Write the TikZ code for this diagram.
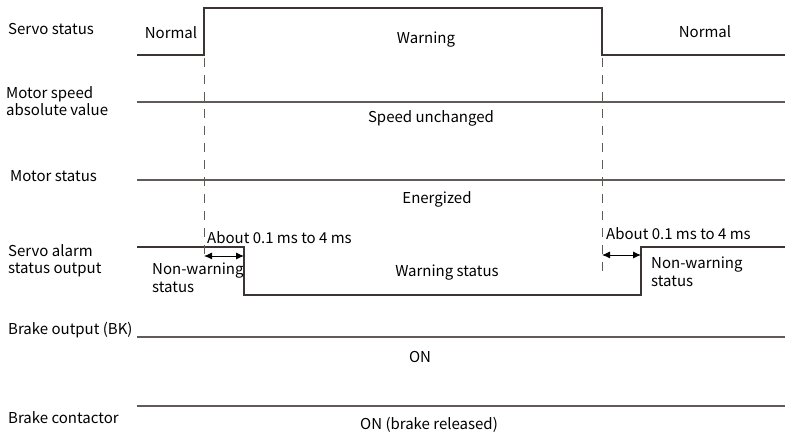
\documentclass[tikz,border=0pt]{standalone}
\usepackage{fontspec}
\setmainfont{Noto Sans CJK SC}
\usetikzlibrary{arrows.meta}
\definecolor{wavecol}{HTML}{3A3432}
\definecolor{linecol}{HTML}{605A58}
\begin{document}
\begin{tikzpicture}[x=1pt,y=-1pt,
  wave/.style={line width=1.3pt,draw=wavecol},
  hline/.style={line width=1.2pt,draw=linecol},
  guide/.style={line width=1pt,draw=linecol,dash pattern=on 9pt off 8pt},
  dim/.style={line width=0.9pt,draw=black,{Latex[length=8pt,width=7pt]}-{Latex[length=8pt,width=7pt]}},
  lbl/.style={font=\fontsize{15}{17.5}\selectfont,inner sep=0pt,anchor=west,align=left},
  txt/.style={font=\fontsize{15}{17.5}\selectfont,inner sep=0pt,align=left}]
\useasboundingbox (0,0) rectangle (788,435);
% left labels
\node[lbl] (l1) at (8,29) {Servo status};
\node[lbl] (l2) at (6,101) {Motor speed\\absolute value};
\node[lbl] (l3) at (10,176) {Motor status};
\node[lbl] (l4) at (8,261) {Servo alarm\\status output};
\node[lbl] (l5) at (8,330) {Brake output (BK)};
\node[lbl] (l6) at (8,418) {Brake contactor};
% servo status waveform
\draw[wave] (137,55) -- (204,55) -- (204,8) -- (602,8) -- (602,55) -- (785,55);
\node[txt] (n1) at (171,33) {Normal};
\node[txt] (w1) at (426,40) {Warning};
\node[txt] (n2) at (705,32) {Normal};
% motor speed
\draw[hline] (137,102) -- (785,102);
\node[txt] (su) at (431,118) {Speed unchanged};
% motor status
\draw[hline] (137,180) -- (785,180);
\node[txt] (en) at (437,199) {Energized};
% alarm output
\draw[wave] (137,247) -- (244,247) -- (244,295) -- (641,295) -- (641,247) -- (785,247);
\node[txt] (ws) at (447,273) {Warning status};
\node[txt,anchor=north west] (nw1) at (152,263) {Non-warning\\status};
\node[txt,anchor=north west] (nw2) at (651,257) {Non-warning\\status};
% guides
\coordinate (g1t) at (204,58);
\coordinate (g1b) at (204,262);
\coordinate (g2t) at (602,58);
\coordinate (g2b) at (602,276);
\draw[guide] (g1t) -- (g1b);
\draw[guide] (g2t) -- (g2b);
% dimension arrows
\coordinate (a1l) at (204,256);
\coordinate (a1r) at (244,256);
\coordinate (a2l) at (602,255);
\coordinate (a2r) at (641,255);
\draw[dim] (a1l) -- (a1r);
\draw[dim] (a2l) -- (a2r);
\node[txt,anchor=west] (t1) at (207,238) {About 0.1 ms to 4 ms};
\node[txt,anchor=west] (t2) at (606,234) {About 0.1 ms to 4 ms};
% brake output
\draw[hline] (137,337) -- (785,337);
\node[txt] (on1) at (420,357) {ON};
% brake contactor
\draw[hline] (137,406) -- (785,406);
\node[txt] (on2) at (429,425) {ON (brake released)};
\end{tikzpicture}
\end{document}
